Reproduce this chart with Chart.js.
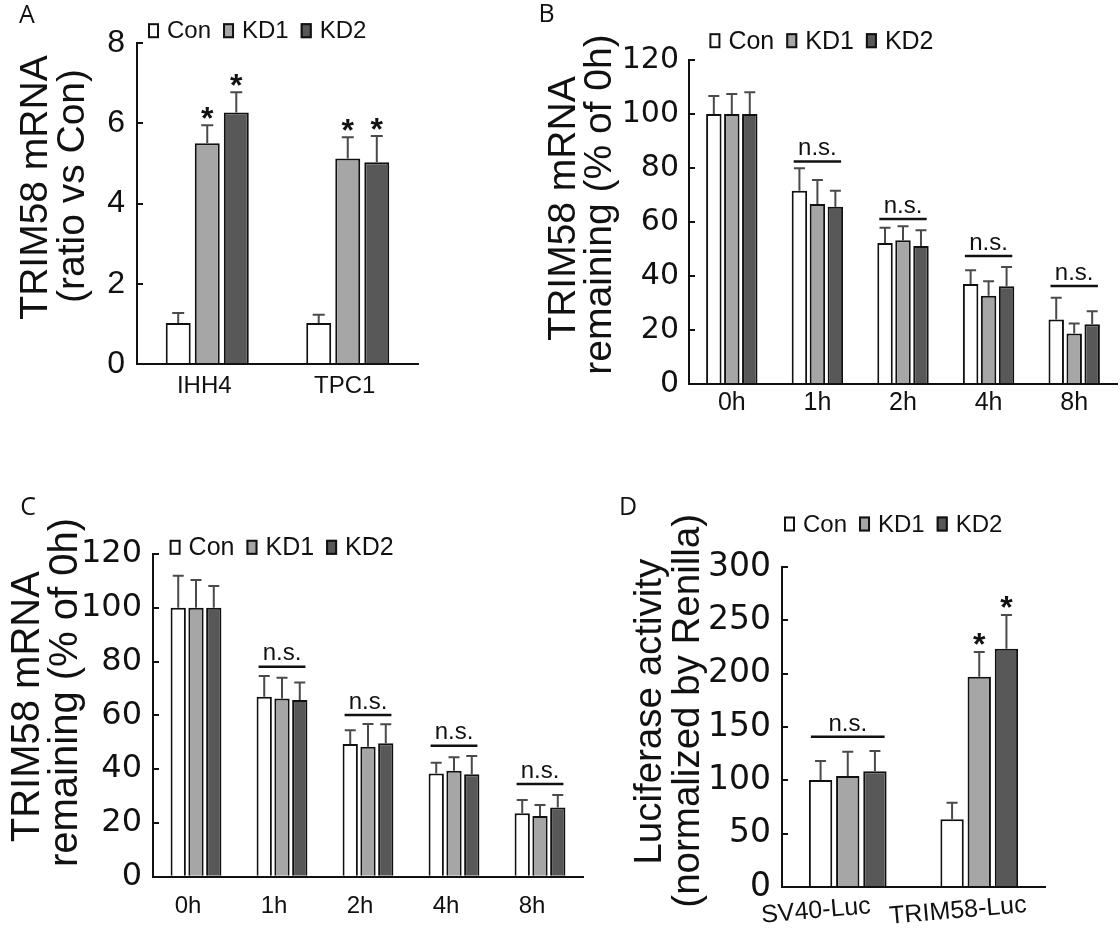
<!DOCTYPE html>
<html>
<head>
<meta charset="utf-8">
<script src="https://cdn.jsdelivr.net/npm/chart.js@4/dist/chart.umd.min.js"></script>
<style>
html, body { margin: 0; padding: 0; background: #fff; }
#wrap { position: relative; width: 1120px; height: 938px; overflow: hidden; background: #fff; }
canvas { position: absolute; }
</style>
</head>
<body>
<div id="wrap">
  <canvas id="cA" width="560" height="470" style="left:0px;top:0px"></canvas>
  <canvas id="cB" width="580" height="470" style="left:540px;top:0px"></canvas>
  <canvas id="cC" width="600" height="468" style="left:0px;top:470px"></canvas>
  <canvas id="cD" width="520" height="468" style="left:600px;top:470px"></canvas>
</div>
<script>
// ---------------- DATA ----------------
const seriesNames = ['Con', 'KD1', 'KD2'];

// Panel A
const aCategories = ['IHH4', 'TPC1'];
const aCon = [1.02, 1.02];
const aKD1 = [5.50, 5.12];
const aKD2 = [6.27, 5.03];
const aConSD = [0.25, 0.21];
const aKD1SD = [0.45, 0.53];
const aKD2SD = [0.50, 0.65];
const aStars = [[false, false], [true, true], [true, true]];
const aNS = [null, null];
const aTicks = [0, 2, 4, 6, 8];

// Panel B
const bCategories = ['0h', '1h', '2h', '4h', '8h'];
const bCon = [100, 71.6, 52.3, 37.1, 24.0];
const bKD1 = [100, 66.7, 53.3, 32.8, 18.8];
const bKD2 = [100, 65.7, 51.2, 36.3, 22.2];
const bConSD = [6.7, 8.3, 5.6, 5.1, 8.0];
const bKD1SD = [7.4, 8.9, 5.2, 5.3, 3.7];
const bKD2SD = [8.1, 5.9, 5.8, 7.1, 4.8];
const bStars = [[false,false,false,false,false],[false,false,false,false,false],[false,false,false,false,false]];
const bNS = [null, 82.4, 61.2, 47.5, 36.4];
const bTicks = [0, 20, 40, 60, 80, 100, 120];

// Panel C
const cCategories = ['0h', '1h', '2h', '4h', '8h'];
const cCon = [100, 66.9, 49.3, 38.4, 23.6];
const cKD1 = [100, 66.3, 48.3, 39.4, 22.6];
const cKD2 = [100, 65.7, 49.6, 38.1, 25.7];
const cConSD = [11.9, 7.7, 5.2, 4.0, 4.9];
const cKD1SD = [10.3, 7.7, 8.5, 5.0, 4.1];
const cKD2SD = [8.1, 6.5, 7.1, 6.8, 4.7];
const cStars = [[false,false,false,false,false],[false,false,false,false,false],[false,false,false,false,false]];
const cNS = [null, 78.1, 60.1, 48.7, 34.5];
const cTicks = [0, 20, 40, 60, 80, 100, 120];

// Panel D
const dCategories = ['SV40-Luc', 'TRIM58-Luc'];
const dCon = [100.3, 63.4];
const dKD1 = [104.1, 197.2];
const dKD2 = [108.4, 223.4];
const dConSD = [17.8, 15.7];
const dKD1SD = [22.7, 23.1];
const dKD2SD = [19.1, 31.6];
const dStars = [[false, false], [false, true], [false, true]];
const dNS = [140.9, null];
const dTicks = [0, 50, 100, 150, 200, 250, 300];

// ---------------- STYLE ----------------
const SANS = "'Liberation Sans', Arial, sans-serif";
const WIDE = "'DejaVu Sans', sans-serif";
const LETTER = "'Open Sans', sans-serif";
const INK = '#111111';
const COLORS = ['#ffffff', '#a6a6a6', '#585858'];
const ERR = '#4a4a4a';

function makeDecor(spec) {
  return {
    id: 'decor',
    afterDraw(chart) {
      const ctx = chart.ctx;
      const ys = chart.scales.y;
      const xs = chart.scales.x;
      ctx.save();
      const metas = [0, 1, 2].map(i => chart.getDatasetMeta(i));
      // error bars (upper only) and significance stars
      spec.sd.forEach((sdArr, i) => {
        const vals = spec.series[i];
        metas[i].data.forEach((bar, j) => {
          const p = bar.getProps(['x', 'y', 'width'], true);
          const top = ys.getPixelForValue(vals[j] + sdArr[j]);
          ctx.strokeStyle = ERR;
          ctx.lineWidth = 2;
          ctx.beginPath();
          ctx.moveTo(p.x, p.y);
          ctx.lineTo(p.x, top);
          ctx.moveTo(p.x - spec.capW / 2, top);
          ctx.lineTo(p.x + spec.capW / 2, top);
          ctx.stroke();
          if (spec.stars[i][j]) {
            ctx.fillStyle = INK;
            ctx.font = 'bold 32px ' + SANS;
            ctx.textAlign = 'center';
            ctx.textBaseline = 'alphabetic';
            ctx.fillText('*', p.x, top - spec.starGap + 18);
          }
        });
      });
      // n.s. brackets
      spec.ns.forEach((v, j) => {
        if (v === null) return;
        const b0 = metas[0].data[j].getProps(['x', 'width'], true);
        const b2 = metas[2].data[j].getProps(['x', 'width'], true);
        const x1 = b0.x - b0.width / 2 + 2, x2 = b2.x + b2.width / 2 - 2;
        const y = ys.getPixelForValue(v);
        ctx.strokeStyle = INK;
        ctx.lineWidth = 2.5;
        ctx.beginPath();
        ctx.moveTo(x1, y);
        ctx.lineTo(x2, y);
        ctx.stroke();
        ctx.fillStyle = INK;
        ctx.font = '24px ' + SANS;
        ctx.textAlign = 'center';
        ctx.textBaseline = 'middle';
        ctx.fillText('n.s.', (x1 + x2) / 2, y - spec.nsGap);
      });
      // slanted category labels (panel D)
      if (spec.slanted) {
        const S = spec.slanted;
        ctx.font = spec.xFont + 'px ' + SANS;
        ctx.fillStyle = INK;
        ctx.textAlign = 'center';
        ctx.textBaseline = 'middle';
        spec.categories.forEach((lab, j) => {
          ctx.save();
          ctx.translate(xs.getPixelForValue(j) + S.dx[j], chart.chartArea.bottom + S.dy);
          ctx.rotate(-S.rot * Math.PI / 180);
          ctx.fillText(lab, 0, 0);
          ctx.restore();
        });
      }
      // page-coordinate items
      ctx.translate(-spec.origin[0], -spec.origin[1]);
      // legend
      const L = spec.legend;
      let x = L.x;
      ctx.font = L.size + 'px ' + SANS;
      ctx.textAlign = 'left';
      ctx.textBaseline = 'middle';
      seriesNames.forEach((name, i) => {
        const by = L.y - 1 - 7.5;
        ctx.fillStyle = COLORS[i];
        ctx.fillRect(x, by, 11, 15);
        ctx.strokeStyle = INK;
        ctx.lineWidth = 2;
        ctx.strokeRect(x + 1, by + 1, 9, 13);
        ctx.fillStyle = INK;
        ctx.fillText(name, x + 11 + 8, L.y);
        x += 11 + 8 + ctx.measureText(name).width + 12;
      });
      // rotated axis titles
      spec.titles.forEach(t => {
        ctx.save();
        ctx.translate(t.x, t.y);
        ctx.rotate(-Math.PI / 2);
        ctx.font = t.size + 'px ' + SANS;
        ctx.fillStyle = INK;
        ctx.textAlign = 'center';
        ctx.textBaseline = 'middle';
        ctx.fillText(t.text, 0, 0);
        ctx.restore();
      });
      // panel letter
      ctx.font = '25px ' + LETTER;
      ctx.fillStyle = INK;
      ctx.textAlign = 'center';
      ctx.textBaseline = 'middle';
      ctx.fillText(spec.letter.text, spec.letter.x, spec.letter.y);
      ctx.restore();
    }
  };
}

function makeChart(id, spec) {
  return new Chart(document.getElementById(id), {
    type: 'bar',
    data: {
      labels: spec.categories,
      datasets: spec.series.map((vals, i) => ({
        label: seriesNames[i],
        data: vals,
        backgroundColor: COLORS[i],
        borderColor: INK,
        borderWidth: 2,
        categoryPercentage: spec.catPct,
        barPercentage: spec.barPct
      }))
    },
    options: {
      responsive: false,
      animation: false,
      events: [],
      layout: { padding: spec.padding },
      plugins: { legend: { display: false }, tooltip: { enabled: false }, title: { display: false } },
      scales: {
        x: {
          offset: true,
          grid: { display: false, drawTicks: false },
          border: { color: INK, width: 2, z: 1 },
          ticks: {
            display: !spec.slanted,
            font: { family: SANS, size: spec.xFont },
            color: INK,
            padding: spec.xPad,
            labelOffset: spec.xOffset,
            maxRotation: 0,
            autoSkip: false
          },
          afterFit: s => { s.height = 40; }
        },
        y: {
          min: 0,
          max: spec.ticks[spec.ticks.length - 1],
          afterBuildTicks: s => { s.ticks = spec.ticks.map(v => ({ value: v })); },
          grid: { drawOnChartArea: false, drawTicks: true, tickLength: -6, color: INK, lineWidth: 2 },
          border: { color: INK, width: 2, z: 1 },
          ticks: { font: { family: spec.yFamily, size: spec.yFont }, color: INK, padding: spec.yPad },
          afterFit: s => { s.width = spec.yWidth; }
        }
      }
    },
    plugins: [makeDecor(spec)]
  });
}

makeChart('cA', {
  categories: aCategories,
  series: [aCon, aKD1, aKD2], sd: [aConSD, aKD1SD, aKD2SD], stars: aStars, ns: aNS, ticks: aTicks,
  catPct: 0.62, barPct: 0.86,
  padding: { left: 0, top: 43, right: 142, bottom: 66 },
  yWidth: 137, yFamily: SANS, yFont: 32, yPad: 18,
  xFont: 24, xPad: 8, xOffset: -3,
  capW: 12, starGap: 14, nsGap: 13,
  origin: [0, 0],
  legend: { x: 148, y: 31.7, size: 24 },
  titles: [
    { text: 'TRIM58 mRNA', x: 36.2, y: 187.5, size: 39 },
    { text: '(ratio vs Con)', x: 73.5, y: 186, size: 39 }
  ],
  letter: { text: 'A', x: 27, y: 16 }
});

makeChart('cB', {
  categories: bCategories,
  series: [bCon, bKD1, bKD2], sd: [bConSD, bKD1SD, bKD2SD], stars: bStars, ns: bNS, ticks: bTicks,
  catPct: 0.63, barPct: 0.86,
  padding: { left: 0, top: 60, right: 3, bottom: 45.7 },
  yWidth: 149, yFamily: WIDE, yFont: 30, yPad: 16,
  xFont: 25, xPad: 4, xOffset: 0,
  capW: 11, starGap: 14, nsGap: 13,
  origin: [540, 0],
  legend: { x: 709.4, y: 41.7, size: 25 },
  titles: [
    { text: 'TRIM58 mRNA', x: 564, y: 208.5, size: 39 },
    { text: 'remaining (% of 0h)', x: 600, y: 204.5, size: 39 }
  ],
  letter: { text: 'B', x: 546.5, y: 15 }
});

makeChart('cC', {
  categories: cCategories,
  series: [cCon, cKD1, cKD2], sd: [cConSD, cKD1SD, cKD2SD], stars: cStars, ns: cNS, ticks: cTicks,
  catPct: 0.62, barPct: 0.86,
  padding: { left: 0, top: 84, right: 17, bottom: 21.3 },
  yWidth: 153, yFamily: WIDE, yFont: 32, yPad: 17,
  xFont: 24, xPad: 15.6, xOffset: -8,
  capW: 11, starGap: 14, nsGap: 13,
  origin: [0, 470],
  legend: { x: 169.6, y: 548.3, size: 25 },
  titles: [
    { text: 'TRIM58 mRNA', x: 28.3, y: 706.7, size: 40 },
    { text: 'remaining (% of 0h)', x: 65.5, y: 692.5, size: 40 }
  ],
  letter: { text: 'C', x: 28, y: 508 }
});

makeChart('cD', {
  categories: dCategories,
  series: [dCon, dKD1, dKD2], sd: [dConSD, dKD1SD, dKD2SD], stars: dStars, ns: dNS, ticks: dTicks,
  catPct: 0.62, barPct: 0.86,
  padding: { left: 0, top: 97, right: 75, bottom: 11 },
  yWidth: 182, yFamily: WIDE, yFont: 33, yPad: 17,
  xFont: 25, xPad: 3, xOffset: 0,
  slanted: { dx: [-31.75, -21.25], dy: 24, rot: 5 },
  capW: 11, starGap: 15, nsGap: 12,
  origin: [600, 470],
  legend: { x: 784, y: 525, size: 24 },
  titles: [
    { text: 'Luciferase activity', x: 650.5, y: 711.7, size: 38.5 },
    { text: '(normalized by Renilla)', x: 688, y: 710.8, size: 38.5 }
  ],
  letter: { text: 'D', x: 628, y: 507.5 }
});
</script>
</body>
</html>
